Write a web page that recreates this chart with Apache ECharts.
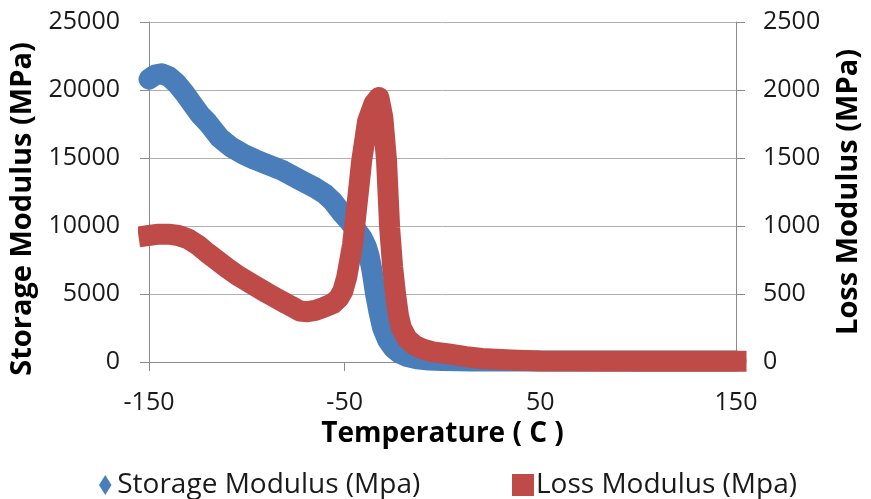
<!DOCTYPE html>
<html>
<head>
<meta charset="utf-8">
<script src="https://cdn.jsdelivr.net/npm/echarts@6/dist/echarts.min.js"></script>
<style>
html,body{margin:0;padding:0;background:#fff;}
#chart{width:871px;height:499px;}
</style>
</head>
<body>
<div id="chart"></div>
<script>
// Temperature (C) for storage modulus samples
var storageTemps = [-150,-147,-143.5,-140,-136,-132,-128,-124,-120,-114,-108,-102,-96,-90,-82,-73,-65,-60,-56,-52,-48,-44,-41,-39,-37.5,-36,-34.2,-32.5,-30.6,-28,-25,-22,-18,-13,-7,0,15,40,80,150];
// Storage modulus (MPa), left axis
var storageValues = [20800,21100,21200,21000,20500,19800,19000,18200,17600,16500,15800,15300,14900,14550,14100,13400,12800,12350,11800,11050,10400,9700,9100,8500,7800,6700,5000,3700,2500,1600,1000,650,400,230,150,110,80,80,80,80];
// Temperature (C) for loss modulus samples
var lossTemps = [-150,-145,-140,-135,-130,-125,-120,-115,-110,-104,-97,-90,-85,-80,-76,-73,-69,-65,-61,-56,-53,-51,-49,-47.5,-46,-45,-43,-41.3,-38.3,-35,-32.5,-30.5,-28.6,-27,-25.5,-24,-22.5,-21,-18,-14,-10,-5,3,12,20,35,50,100,150];
// Loss modulus (MPa), right axis
var lossValues = [930,940,940,930,905,860,800,745,690,630,570,510,470,430,400,375,370,380,400,430,470,520,620,740,860,985,1250,1480,1770,1900,1945,1800,1480,985,700,500,340,250,170,120,95,75,60,40,26,15,8,5,5];

var xTicks = [-150,-50,50,150];
var leftTicks = [0,5000,10000,15000,20000,25000];
var rightTicks = [0,500,1000,1500,2000,2500];

var storageName = 'Storage Modulus (Mpa)';
var lossName = 'Loss Modulus (Mpa)';

function pairs(xs, ys){ return xs.map(function(x,i){ return [x, ys[i]]; }); }

var FONT = '"Open Sans", sans-serif';
var BLUE = '#4A7EBB';
var RED = '#BE4B48';
var GRID = '#b0b0b0';
var AXIS = '#8c8c8c';

var chart = echarts.init(document.getElementById('chart'));
chart.setOption({
  animation: false,
  backgroundColor: '#fff',
  grid: {left: 149, right: 133, top: 22, bottom: 137, containLabel: false},
  legend: [
    {left: 94, top: 466, itemWidth: 20, itemHeight: 20, itemGap: 0,
     textStyle: {fontFamily: FONT, fontSize: 28, color: '#1a1a1a', padding: [0,0,0,-3]},
     data: [{name: storageName, icon: 'path://M5,0L10,8L5,16L0,8Z'}]},
    {left: 507, top: 466, itemWidth: 22, itemHeight: 22, itemGap: 0,
     textStyle: {fontFamily: FONT, fontSize: 28, color: '#1a1a1a', padding: [0,0,0,-3]},
     data: [{name: lossName, icon: 'rect'}]}
  ],
  xAxis: {
    type: 'value', min: xTicks[0], max: xTicks[xTicks.length-1], interval: 100,
    name: 'Temperature ( C )', nameLocation: 'middle', nameGap: 55,
    nameTextStyle: {fontFamily: FONT, fontSize: 28, fontWeight: 'bold', color: '#000'},
    axisLine: {show: true, onZero: false, lineStyle: {color: AXIS, width: 1}},
    axisTick: {show: true, inside: false, length: 9, lineStyle: {color: AXIS}},
    axisLabel: {fontFamily: FONT, fontSize: 25, color: '#1a1a1a', margin: 28, formatter: function(v){return String(v);}},
    splitLine: {show: false}
  },
  yAxis: [
    {
      type: 'value', position: 'left', min: leftTicks[0], max: leftTicks[leftTicks.length-1], interval: 5000,
      name: 'Storage Modulus (MPa)', nameLocation: 'middle', nameGap: 105, nameRotate: 90,
      nameTextStyle: {fontFamily: FONT, fontSize: 29, fontWeight: 'bold', color: '#000', padding: [0, 34, 0, 0]},
      axisLine: {show: true, onZero: false, lineStyle: {color: AXIS, width: 1}},
      axisTick: {show: true, length: 9, lineStyle: {color: AXIS}},
      axisLabel: {fontFamily: FONT, fontSize: 25, color: '#1a1a1a', margin: 29, formatter: function(v){return String(v);}},
      splitLine: {show: true, lineStyle: {color: GRID, width: 1}}
    },
    {
      type: 'value', position: 'right', min: rightTicks[0], max: rightTicks[rightTicks.length-1], interval: 500,
      name: 'Loss Modulus (MPa)', nameLocation: 'middle', nameGap: 98, nameRotate: 90,
      nameTextStyle: {fontFamily: FONT, fontSize: 29, fontWeight: 'bold', color: '#000'},
      axisLine: {show: true, onZero: false, lineStyle: {color: AXIS, width: 1}},
      axisTick: {show: true, length: 9, lineStyle: {color: AXIS}},
      axisLabel: {fontFamily: FONT, fontSize: 25, color: '#1a1a1a', margin: 27, formatter: function(v){return String(v);}},
      splitLine: {show: false}
    }
  ],
  series: [
    {
      name: storageName, type: 'line', yAxisIndex: 0, z: 2, clip: false,
      data: pairs(storageTemps, storageValues),
      showSymbol: false, symbol: 'diamond',
      itemStyle: {color: BLUE},
      lineStyle: {color: BLUE, width: 21, join: 'round', cap: 'round'},
      emphasis: {disabled: true}
    },
    {
      name: lossName, type: 'line', yAxisIndex: 1, z: 3, clip: false,
      data: pairs(lossTemps, lossValues),
      showSymbol: false, symbol: 'rect',
      itemStyle: {color: RED},
      lineStyle: {color: RED, width: 21, join: 'round', cap: 'square'},
      emphasis: {disabled: true}
    }
  ]
});
</script>
</body>
</html>
